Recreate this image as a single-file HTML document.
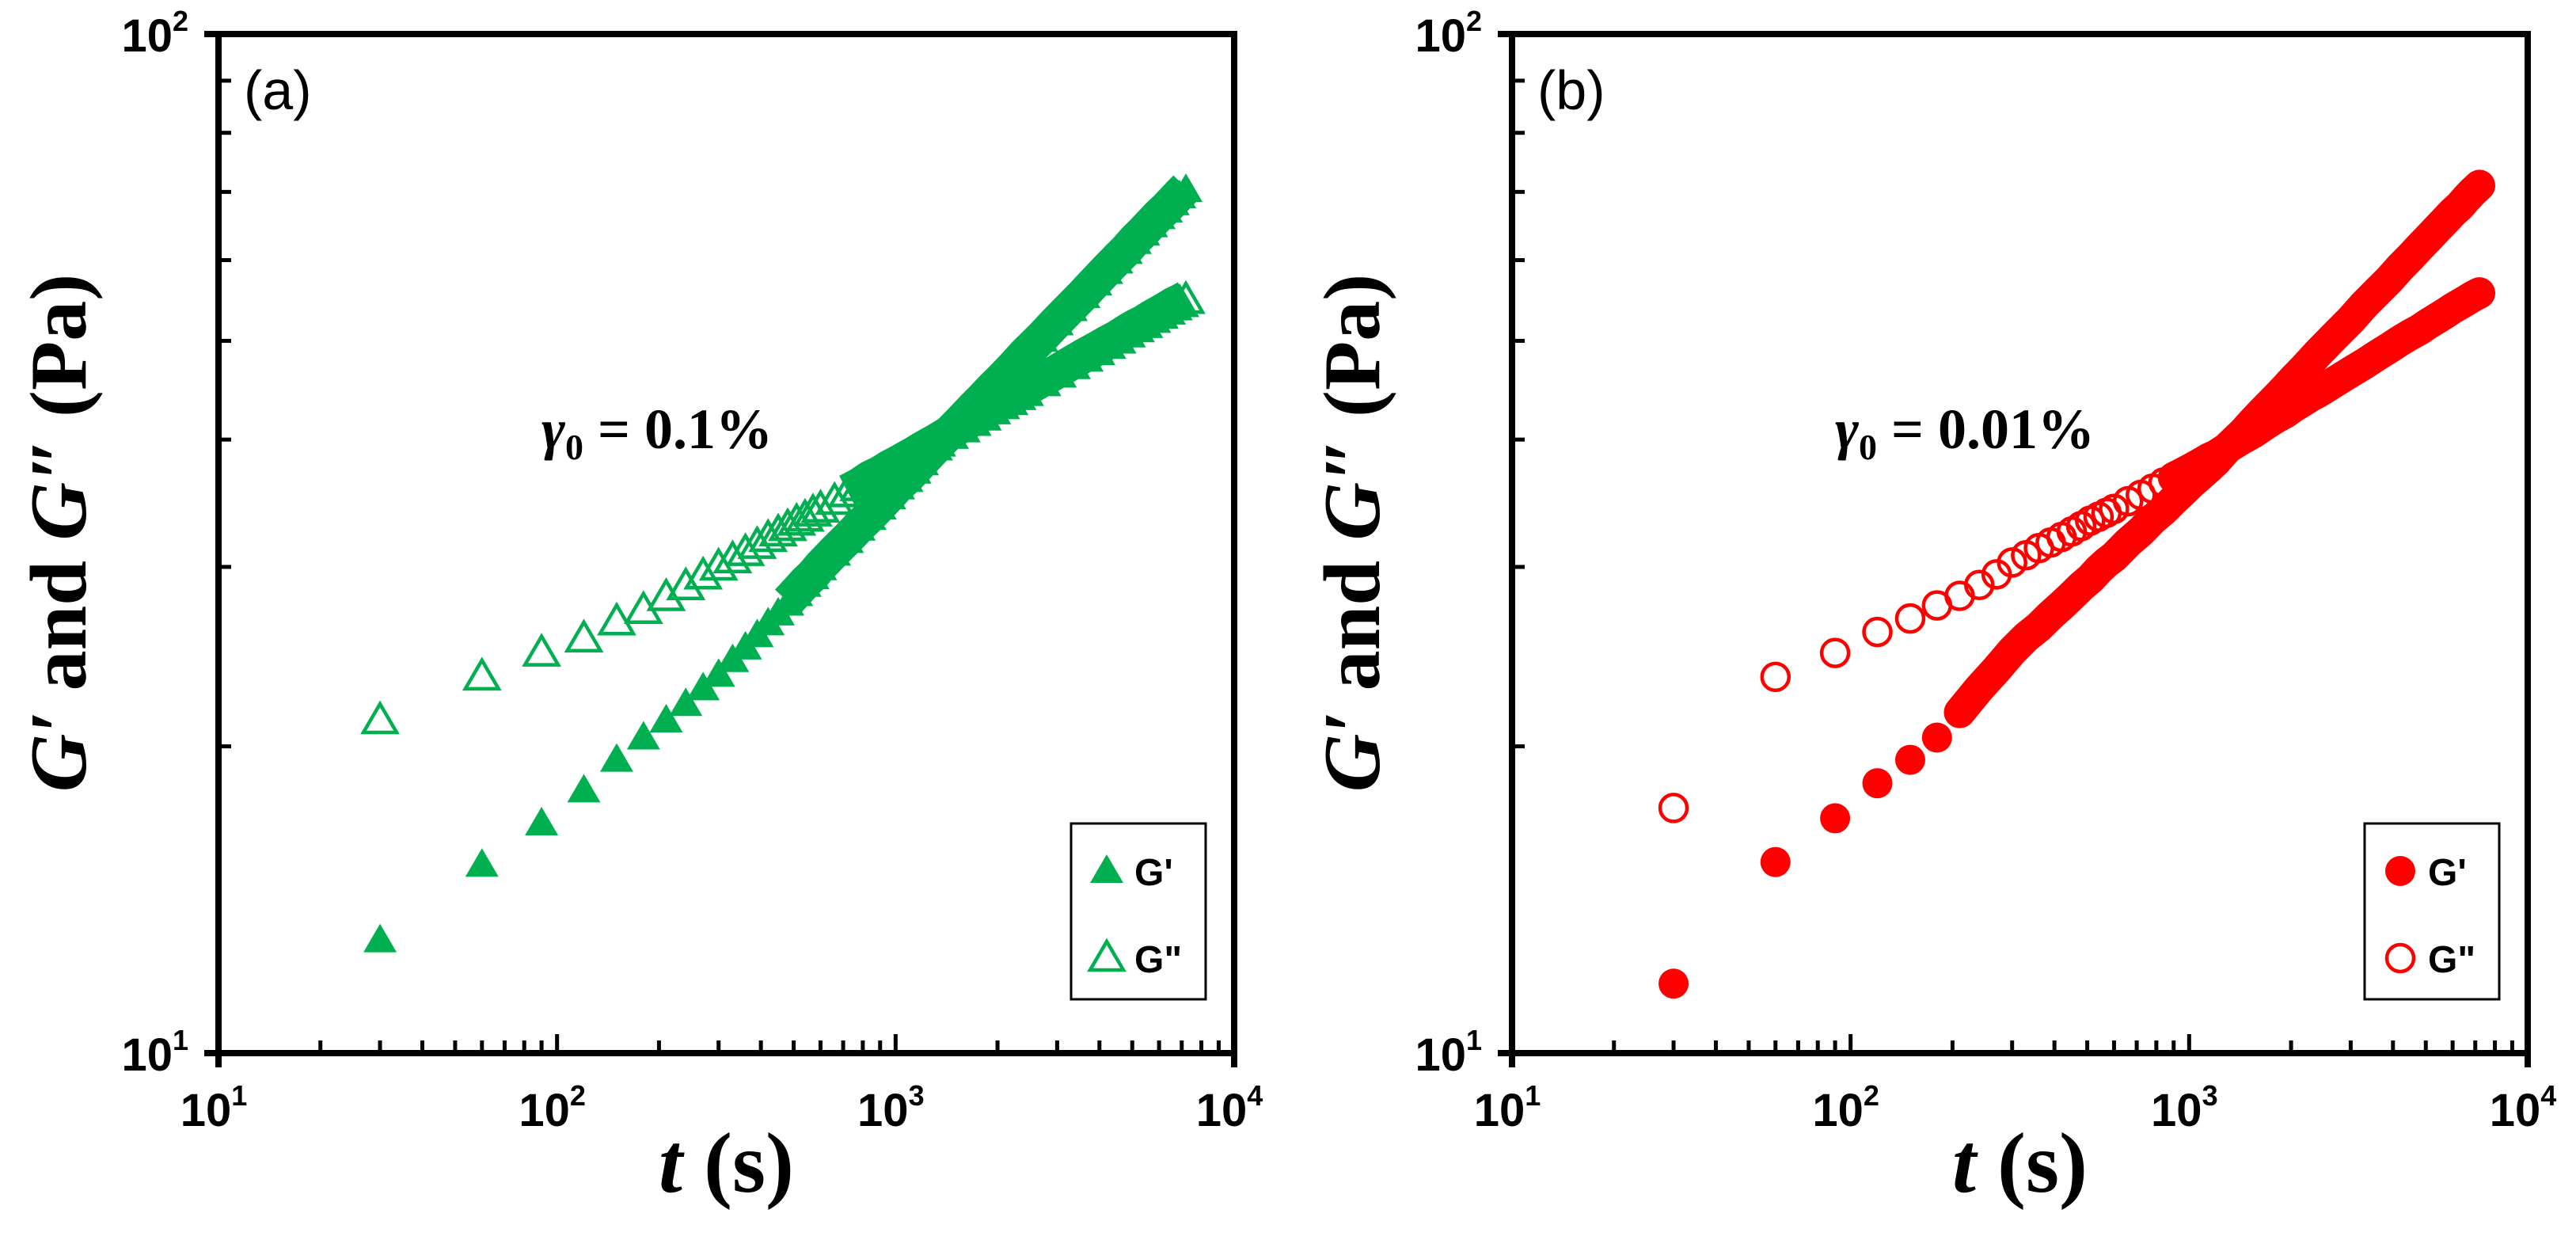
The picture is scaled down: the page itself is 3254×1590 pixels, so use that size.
<!DOCTYPE html>
<html><head><meta charset="utf-8"><style>
html,body{margin:0;padding:0;background:#fff;}
svg{display:block;}
</style></head><body>
<svg id="fig" width="3254" height="1590" viewBox="0 0 3254 1590" xmlns="http://www.w3.org/2000/svg">
<rect width="3254" height="1590" fill="#fff"/>
</svg>
<script>
// ---- data ----
const times = [30,60,90,120,150,180,210,240,270,300,330,360,390,420,450,480,510,540,570,600,
660,720,780,840,900,960,1020,1080,1140,1200,1320,1440,1560,1680,1800,1920,2040,2160,2280,2400,
2700,3000,3300,3600,3900,4200,4500,4800,5100,5400,5700,6000,6300,6600,6900,7200];
const aGp = [12.9,15.3,16.8,18.1,19.4,20.4,21.2,22.0,22.8,23.5,24.3,25.0,25.7,26.4,27.0,27.6,28.2,28.8,29.3,29.9,
30.9,31.8,32.7,33.5,34.3,35.1,35.9,36.5,37.2,37.9,39.2,40.4,41.5,42.6,43.6,44.6,45.5,46.4,47.3,48.2,
50.1,52.0,53.7,55.3,56.9,58.4,59.8,61.1,62.5,63.7,64.9,66.1,67.1,68.2,69.3,70.3];
const aGpp = [21.2,23.4,24.7,25.5,26.5,27.2,28.0,28.7,29.4,30.0,30.5,31.0,31.5,32.0,32.4,32.8,33.2,33.5,33.9,34.2,
34.8,35.4,35.9,36.5,36.9,37.4,37.8,38.2,38.6,39.0,39.7,40.4,41.0,41.6,42.1,42.7,43.2,43.6,44.1,44.5,
45.5,46.4,47.3,48.1,48.8,49.5,50.1,50.8,51.4,51.9,52.5,53.0,53.5,54.0,54.4,54.8];
const bGp = [11.7,15.4,17.0,18.4,19.4,20.4,21.6,22.8,23.8,24.8,25.6,26.2,26.9,27.5,28.1,28.7,29.2,29.8,30.3,30.7,
31.7,32.5,33.4,34.1,34.9,35.6,36.3,36.9,37.5,38.1,39.5,40.6,41.8,42.9,43.9,44.9,45.9,46.8,47.7,48.6,
50.6,52.4,54.3,55.9,57.4,59.0,60.4,61.8,63.1,64.4,65.6,66.8,67.8,69.0,70.1,71.0];
const bGpp = [17.4,23.4,24.7,25.9,26.7,27.5,28.1,28.8,29.5,30.3,30.8,31.3,31.7,32.1,32.5,32.9,33.3,33.6,33.9,34.2,
34.8,35.3,35.8,36.3,36.7,37.1,37.5,37.9,38.3,38.6,39.4,40.1,40.7,41.4,42.0,42.5,43.1,43.6,44.1,44.5,
45.6,46.6,47.5,48.4,49.2,50.0,50.7,51.3,52.0,52.6,53.2,53.8,54.3,54.8,55.3,55.7];
const xTickExps = ["1","2","3","4"];
const yTickExps = ["1","2"];

const NS = "http://www.w3.org/2000/svg";
const svg = document.getElementById('fig');
function mk(tag, attrs, parent){
  const e = document.createElementNS(NS, tag);
  for (const k in attrs) e.setAttribute(k, attrs[k]);
  (parent||svg).appendChild(e);
  return e;
}
const W = 1283, H = 1287;
function xs(x0,t){ return x0 + W*(Math.log10(t)-1)/3; }
function ys(y0,v){ return y0 + H - H*(Math.log10(v)-1); }

function panel(x0, y0, label, color, shape, gp, gpp, ann, startGp, startGpp){
  const g = mk('g', {});
  
  
  const sOpen = mk('g', {}, g);
  
  
  const sFill = mk('g', {}, g);
  
  
  const off = shape === 'tri' ? -3 : 0;
  const bw = shape === 'tri' ? 44 : 40;
  function band(parent, vals, tStart){
    const pts = [];
    for (let i=0;i<times.length;i++){
      if (times[i] >= tStart) pts.push(xs(x0,times[i]).toFixed(1) + ',' + (ys(y0,vals[i])+off).toFixed(1));
    }
    const b = mk('polyline', {points:pts.join(' '), fill:'none', stroke:color, 'stroke-width':bw,
      'stroke-linejoin':'round', 'stroke-linecap': shape==='tri' ? 'butt' : 'round'}, parent);
    return b;
  }
  function marker(parent, cx, cy, filled){
    let m;
    if (shape === 'tri'){
      const pts = `${cx},${cy-21} ${cx-21},${cy+15} ${cx+21},${cy+15}`;
      m = mk('polygon', filled ? {points:pts, fill:color} :
        {points:pts, fill:'none', stroke:color, 'stroke-width':4.5, 'stroke-linejoin':'miter'}, parent);
    } else {
      m = mk('circle', filled ? {cx:cx, cy:cy, r:19, fill:color} :
        {cx:cx, cy:cy, r:17, fill:'none', stroke:color, 'stroke-width':4.5}, parent);
    }
    return m;
  }
  const b1 = band(sOpen, gpp, startGpp);
  
  
  for (let i=0;i<times.length;i++){
    const m = marker(sOpen, xs(x0,times[i]), ys(y0,gpp[i]), false);
    
    
  }
  const b2 = band(sFill, gp, startGp);
  
  
  for (let i=0;i<times.length;i++){
    const m = marker(sFill, xs(x0,times[i]), ys(y0,gp[i]), true);
    
    
  }
  const ax = mk('g', {stroke:'#000', fill:'none'}, g);
  
  
  mk('line', {x1:x0-18, y1:y0, x2:x0+W+4, y2:y0, 'stroke-width':8}, ax);
  mk('line', {x1:x0-18, y1:y0+H, x2:x0+W+4, y2:y0+H, 'stroke-width':8}, ax);
  mk('line', {x1:x0, y1:y0-4, x2:x0, y2:y0+H+18, 'stroke-width':8}, ax);
  mk('line', {x1:x0+W, y1:y0-4, x2:x0+W, y2:y0+H+18, 'stroke-width':8}, ax);
  for (let d=1; d<=3; d++){
    for (let k=2;k<=9;k++){
      const t = k*Math.pow(10,d);
      const x = xs(x0,t);
      const tk = mk('line', {x1:x, y1:y0+H, x2:x, y2:y0+H-16, stroke:'#000','stroke-width':5}, g);
      
      
    }
  }
  for (let d=2; d<=3; d++){
    const x = xs(x0,Math.pow(10,d));
    const tk = mk('line', {x1:x, y1:y0+H, x2:x, y2:y0+H-24, stroke:'#000','stroke-width':5}, g);
    
    
  }
  for (let k=2;k<=9;k++){
    const y = ys(y0,k*10);
    const tk = mk('line', {x1:x0, y1:y, x2:x0+16, y2:y, stroke:'#000','stroke-width':5}, g);
    
    
  }
  xTickExps.forEach((e,i)=>{
    const x = x0 + W*i/3;
    const t = mk('text', {x:x-6, y:y0+H+92, 'text-anchor':'middle', 'font-family':'Liberation Sans, sans-serif','font-weight':'bold','font-size':58}, g);
    
    
    t.textContent = '10';
    const s = mk('tspan', {'font-size':36, dy:-26}, t);
    s.textContent = e;
  });
  yTickExps.forEach((e,i)=>{
    const y = y0 + H - H*i;
    const t = mk('text', {x:x0-38, y:y+22, 'text-anchor':'end', 'font-family':'Liberation Sans, sans-serif','font-weight':'bold','font-size':58}, g);
    
    
    t.textContent = '10';
    const s = mk('tspan', {'font-size':36, dy:-26}, t);
    s.textContent = e;
  });
  const yt = mk('text', {x:0, y:0, transform:`translate(${x0-168},${y0+630}) rotate(-90)`, 'text-anchor':'middle','font-family':'Liberation Serif, serif','font-weight':'bold','font-size':102}, g);
  
  
  yt.innerHTML = '<tspan font-style="italic">G′</tspan> and <tspan font-style="italic">G″</tspan> (Pa)';
  const xt = mk('text', {x:x0+W/2, y:y0+H+175, 'text-anchor':'middle','font-family':'Liberation Serif, serif','font-weight':'bold','font-size':108}, g);
  
  
  xt.innerHTML = '<tspan font-style="italic">t</tspan> (s)';
  const pl = mk('text', {x:x0+32, y:y0+95, 'font-family':'Liberation Sans, sans-serif','font-size':70}, g);
  
  
  pl.textContent = '(' + label + ')';
  const an = mk('text', {x:x0+408, y:y0+523, 'font-family':'Liberation Serif, serif','font-weight':'bold','font-size':72}, g);
  
  
  an.innerHTML = '<tspan font-style="italic">γ</tspan><tspan font-size="46" dy="14">0</tspan><tspan dy="-14"> = ' + ann + '</tspan>';
  const lg = mk('g', {}, g);
  
  
  const lx = x0+1077, ly = y0+997;
  mk('rect', {x:lx, y:ly, width:170, height:222, fill:'#fff', stroke:'#000', 'stroke-width':3}, lg);
  const e1 = mk('g', {}, lg);
  
  
  marker(e1, lx+45, ly+60, true);
  const t1 = mk('text', {x:lx+80, y:ly+78, 'font-family':'Liberation Sans, sans-serif','font-weight':'bold','font-size':48}, e1);
  t1.textContent = "G'";
  const e2 = mk('g', {}, lg);
  
  
  marker(e2, lx+45, ly+170, false);
  const t2 = mk('text', {x:lx+80, y:ly+188, 'font-family':'Liberation Sans, sans-serif','font-weight':'bold','font-size':48}, e2);
  t2.textContent = 'G"';
}
panel(276, 43, 'a', '#00b050', 'tri', aGp, aGpp, '0.1%', 480, 720);
panel(1910, 43, 'b', '#ff0000', 'circ', bGp, bGpp, '0.01%', 210, 900);
</script>
</body></html>
